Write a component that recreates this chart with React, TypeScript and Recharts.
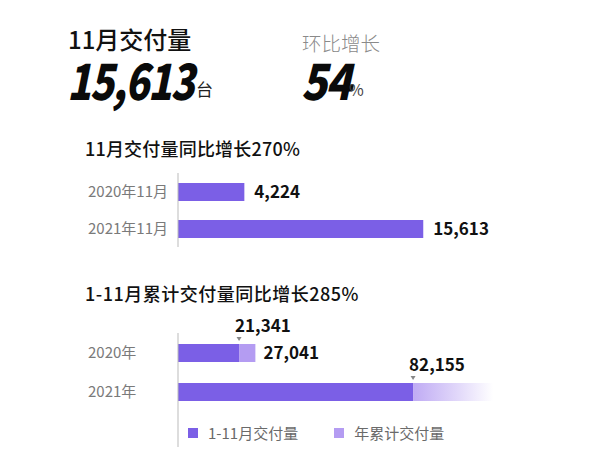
import React from 'react';
import { BarChart, Bar, XAxis, YAxis, LabelList, Legend, Cell } from 'recharts';

// November deliveries, year over year
const months = ['2020年11月', '2021年11月'];
const novDeliveries = [4224, 15613];

// Jan–Nov cumulative deliveries
const years = ['2020年', '2021年'];
const janNovDeliveries = [21341, 82155];
const yearTotals = [27041, null];
// light segment: 2020 is the Dec remainder, 2021 is the faded, unfinished tail (length)
const restOfYear = [5700, 28000];

const DARK = '#7B5FE6';
const LIGHT = '#B49CF2';
const FONT = '"Noto Sans CJK SC", "Noto Sans", sans-serif';

const fmt = (v: number) => v.toLocaleString('en-US');

const monthRows = months.map((m, i) => ({ month: m, deliveries: novDeliveries[i] }));
const yearRows = years.map((y, i) => ({ year: y, janNov: janNovDeliveries[i], rest: restOfYear[i] }));

const bigNumber: React.CSSProperties = {
  position: 'absolute',
  top: 53,
  fontSize: 50,
  lineHeight: '50px',
  color: '#0a0a0a',
  fontWeight: 900,
  fontStyle: 'italic',
  letterSpacing: -2,
  transform: 'scaleX(0.8)',
  transformOrigin: 'left center',
  whiteSpace: 'nowrap',
};

function CategoryTick(props: any) {
  const { y, payload } = props;
  return (
    <text x={88} y={y} dy="0.35em" textAnchor="start" fill="#7a7a7a" fontSize={15} fontFamily={FONT}>
      {payload.value}
    </text>
  );
}

function MarkerLabel(props: any) {
  const { x, y, width, value } = props;
  const ex = x + width;
  return (
    <g>
      <path d={`M${ex - 2.5},${y - 7} L${ex + 2.5},${y - 7} L${ex},${y - 3} Z`} fill="#888" />
      <text x={ex - 4} y={y - 18} dy="0.35em" textAnchor="start" fill="#111" fontSize={17} fontWeight={700} fontFamily={FONT}>
        {fmt(value)}
      </text>
    </g>
  );
}

function TotalLabel(props: any) {
  const { x, y, width, height, index } = props;
  const total = yearTotals[index];
  if (total == null) return null;
  return (
    <text x={x + width + 8} y={y + height / 2} dy="0.35em" textAnchor="start" fill="#111" fontSize={17} fontWeight={700} fontFamily={FONT}>
      {fmt(total)}
    </text>
  );
}

function LegendContent(props: any) {
  const { payload } = props;
  return (
    <div style={{ display: 'flex', alignItems: 'center', fontFamily: FONT, fontSize: 15, color: '#6a6a6a' }}>
      {(payload || []).map((p: any) => (
        <div key={p.value} style={{ display: 'flex', alignItems: 'center', marginRight: 36 }}>
          <span style={{ width: 10, height: 10, background: p.color, marginRight: 10, display: 'inline-block' }} />
          <span>{p.value}</span>
        </div>
      ))}
    </div>
  );
}

export default function App() {
  return (
    <div style={{ position: 'absolute', left: 0, top: 0, width: 600, height: 461, background: '#fff', fontFamily: FONT, overflow: 'hidden' }}>
      <div style={{ position: 'absolute', left: 68, top: 25, fontSize: 24, lineHeight: '28px', color: '#111', fontWeight: 500 }}>
        11月交付量
      </div>
      <div style={{ ...bigNumber, left: 67 }}>15,613</div>
      <div style={{ position: 'absolute', left: 196, top: 79, fontSize: 17, lineHeight: '20px', color: '#222' }}>台</div>

      <div style={{ position: 'absolute', left: 302, top: 31, fontSize: 19.5, lineHeight: '24px', color: '#8a8a8a', fontWeight: 300 }}>
        环比增长
      </div>
      <div style={{ ...bigNumber, left: 301, transform: 'scaleX(0.86)' }}>54</div>
      <div style={{ position: 'absolute', left: 349, top: 79, fontSize: 16, lineHeight: '20px', color: '#444' }}>%</div>

      <div style={{ position: 'absolute', left: 85, top: 137, fontSize: 18, lineHeight: '22px', color: '#111', fontWeight: 500, letterSpacing: 0.2 }}>
        11月交付量同比增长270%
      </div>
      <div style={{ position: 'absolute', left: 0, top: 160 }}>
        <BarChart width={600} height={100} data={monthRows} layout="vertical" margin={{ top: 13, right: 45, bottom: 13, left: 0 }} barSize={18}>
          <XAxis type="number" hide domain={[0, 24000]} />
          <YAxis type="category" dataKey="month" width={178} tickLine={false} axisLine={{ stroke: '#bbb' }} tick={<CategoryTick />} />
          <Bar dataKey="deliveries" fill={DARK} isAnimationActive={false}>
            <LabelList dataKey="deliveries" position="right" offset={10} formatter={(v: any) => fmt(v)} fill="#111" fontSize={17} fontWeight={700} fontFamily={FONT} />
          </Bar>
        </BarChart>
      </div>

      <div style={{ position: 'absolute', left: 85, top: 282, fontSize: 18, lineHeight: '22px', color: '#111', fontWeight: 500, letterSpacing: 0.5 }}>
        1-11月累计交付量同比增长285%
      </div>
      <div style={{ position: 'absolute', left: 0, top: 300 }}>
        <BarChart width={600} height={160} data={yearRows} layout="vertical" margin={{ top: 33, right: 50, bottom: 13, left: 0 }} barSize={18}>
          <defs>
            <linearGradient id="fade" x1="0" y1="0" x2="1" y2="0">
              <stop offset="0%" stopColor={LIGHT} stopOpacity={0.85} />
              <stop offset="55%" stopColor={LIGHT} stopOpacity={0.4} />
              <stop offset="100%" stopColor={LIGHT} stopOpacity={0} />
            </linearGradient>
          </defs>
          <XAxis type="number" hide domain={[0, 130000]} />
          <YAxis type="category" dataKey="year" width={178} tickLine={false} axisLine={{ stroke: '#bbb' }} tick={<CategoryTick />} padding={{ top: 0, bottom: 36 }} />
          <Bar dataKey="janNov" name="1-11月交付量" stackId="a" fill={DARK} isAnimationActive={false}>
            <LabelList dataKey="janNov" content={<MarkerLabel />} />
          </Bar>
          <Bar dataKey="rest" name="年累计交付量" stackId="a" fill={LIGHT} isAnimationActive={false}>
            {yearRows.map((r, i) => (
              <Cell key={r.year} fill={yearTotals[i] == null ? 'url(#fade)' : LIGHT} />
            ))}
            <LabelList dataKey="rest" content={<TotalLabel />} />
          </Bar>
          <Legend
            layout="horizontal"
            verticalAlign="middle"
            align="center"
            content={<LegendContent />}
            wrapperStyle={{ position: 'absolute', left: 188, top: 122, width: 'auto' }}
          />
        </BarChart>
      </div>
    </div>
  );
}
